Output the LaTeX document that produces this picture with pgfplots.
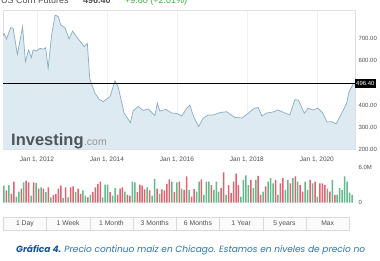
\documentclass[border=0pt]{standalone}
\usepackage{pgfplots}
\pgfplotsset{compat=1.18}
\usepackage{fontspec}
\setmainfont{Liberation Sans}
\newfontfamily\capfont{Poppins}
\definecolor{areafill}{RGB}{221,234,242}
\definecolor{linec}{RGB}{135,172,196}
\definecolor{volg}{RGB}{98,186,138}
\definecolor{volr}{RGB}{222,98,112}
\definecolor{lbl}{RGB}{80,80,80}
\definecolor{capblue}{RGB}{36,116,178}
\definecolor{capdark}{RGB}{22,84,150}
\definecolor{upgreen}{RGB}{60,175,60}
\definecolor{logoc}{RGB}{78,84,90}
\begin{document}
\begin{tikzpicture}[x=1pt,y=1pt]
\useasboundingbox (0pt,0pt) rectangle (380pt,260pt);
\clip (0pt,0pt) rectangle (380pt,260pt);
\fill[white] (0pt,0pt) rectangle (380pt,260pt);
% cropped header
\node[anchor=base west, inner sep=0, font=\fontsize{9}{9}\selectfont, text=lbl] at (1pt,256.5pt) {US Corn Futures};
\node[anchor=base west, inner sep=0, font=\bfseries\fontsize{9}{9}\selectfont, text=lbl] at (83pt,256.5pt) {496.40};
\node[anchor=base west, inner sep=0, font=\fontsize{9}{9}\selectfont, text=upgreen] at (125pt,256.5pt) {+9.80 (+2.01\%)};

\begin{axis}[at={(3pt,110.6pt)}, anchor=south west, scale only axis,
  width=352pt, height=139.4pt,
  xmin=2011.03, xmax=2021.09, ymin=200, ymax=827.5,
  axis line style={draw=gray!25},
  clip mode=individual,
  xtick={2012,2014,2016,2018,2020},
  xticklabels={{Jan 1, 2012},{Jan 1, 2014},{Jan 1, 2016},{Jan 1, 2018},{Jan 1, 2020}},
  xticklabel style={font=\fontsize{6.5}{7}\selectfont, text=lbl, yshift=-4pt},
  ytick={200,300,400,600,700},
  yticklabels={200.00,300.00,400.00,600.00,700.00},
  yticklabel pos=right,
  yticklabel style={font=\fontsize{6}{7}\selectfont, text=lbl},
  major tick length=0pt,
  xmajorgrids, major grid style={gray!12, line width=0.3pt},
]
\addplot[fill=areafill, draw=none] coordinates {
(2011.03,712) (2011.06,722.7) (2011.13,697) (2011.25,747.9) (2011.32,745.2) (2011.44,628.2)
(2011.59,752.4) (2011.67,594.9) (2011.76,647.5) (2011.84,612.9) (2011.89,647.5) (2011.99,643)
(2012.09,655.2) (2012.18,650.7) (2012.25,657.9) (2012.32,565.2) (2012.42,715) (2012.52,805)
(2012.61,797.4) (2012.68,760) (2012.80,747.9) (2012.92,697) (2013.02,733) (2013.13,707.4)
(2013.28,677.7) (2013.35,662.4) (2013.44,677.7) (2013.51,517) (2013.66,452.7) (2013.77,427)
(2013.89,414.9) (2014.09,437.4) (2014.23,509.4) (2014.32,482.4) (2014.49,364) (2014.67,320.4)
(2014.75,373) (2014.89,393.3) (2015.04,375.3) (2015.18,382) (2015.37,352.8) (2015.44,409)
(2015.51,373) (2015.69,379.8) (2015.85,364) (2015.99,361.8) (2016.14,350.5) (2016.28,385)
(2016.37,400) (2016.47,350.5) (2016.62,302.4) (2016.75,340) (2016.89,355) (2017.04,355)
(2017.23,365.4) (2017.42,369.9) (2017.51,359.5) (2017.66,343.8) (2017.86,341.5) (2018.04,362.7)
(2018.20,384.3) (2018.32,388.8) (2018.43,350.5) (2018.57,364) (2018.75,368.5) (2018.89,377.5)
(2019.06,365.4) (2019.23,355) (2019.37,423.9) (2019.47,422.5) (2019.56,392.4) (2019.64,362.7)
(2019.75,385.2) (2019.89,377.5) (2020.03,385.2) (2020.16,366.3) (2020.29,323.5) (2020.42,324.9)
(2020.55,314.5) (2020.71,362.7) (2020.85,407.7) (2020.92,459.9) (2021.04,494.5) (2021.09,496.4)
} \closedcycle;
\addplot[linec, line width=0.7pt] coordinates {
(2011.03,712) (2011.06,722.7) (2011.13,697) (2011.25,747.9) (2011.32,745.2) (2011.44,628.2)
(2011.59,752.4) (2011.67,594.9) (2011.76,647.5) (2011.84,612.9) (2011.89,647.5) (2011.99,643)
(2012.09,655.2) (2012.18,650.7) (2012.25,657.9) (2012.32,565.2) (2012.42,715) (2012.52,805)
(2012.61,797.4) (2012.68,760) (2012.80,747.9) (2012.92,697) (2013.02,733) (2013.13,707.4)
(2013.28,677.7) (2013.35,662.4) (2013.44,677.7) (2013.51,517) (2013.66,452.7) (2013.77,427)
(2013.89,414.9) (2014.09,437.4) (2014.23,509.4) (2014.32,482.4) (2014.49,364) (2014.67,320.4)
(2014.75,373) (2014.89,393.3) (2015.04,375.3) (2015.18,382) (2015.37,352.8) (2015.44,409)
(2015.51,373) (2015.69,379.8) (2015.85,364) (2015.99,361.8) (2016.14,350.5) (2016.28,385)
(2016.37,400) (2016.47,350.5) (2016.62,302.4) (2016.75,340) (2016.89,355) (2017.04,355)
(2017.23,365.4) (2017.42,369.9) (2017.51,359.5) (2017.66,343.8) (2017.86,341.5) (2018.04,362.7)
(2018.20,384.3) (2018.32,388.8) (2018.43,350.5) (2018.57,364) (2018.75,368.5) (2018.89,377.5)
(2019.06,365.4) (2019.23,355) (2019.37,423.9) (2019.47,422.5) (2019.56,392.4) (2019.64,362.7)
(2019.75,385.2) (2019.89,377.5) (2020.03,385.2) (2020.16,366.3) (2020.29,323.5) (2020.42,324.9)
(2020.55,314.5) (2020.71,362.7) (2020.85,407.7) (2020.92,459.9) (2021.04,494.5) (2021.09,496.4)
};
\addplot[black, line width=0.9pt] coordinates {(2011.03,496.4) (2021.09,496.4)};
\node[anchor=west, fill=black, text=white, inner sep=1pt, minimum height=8.7pt,
  font=\fontsize{6}{7}\selectfont] at (axis cs:2021.09,496.4) {496.40};
\end{axis}

% logo
\node[anchor=base west, inner sep=0, text=logoc, font=\bfseries\fontsize{16.5}{17}\selectfont] (inv) at (11pt,114.5pt) {Investing};
\node[anchor=base west, inner sep=0, text=gray!85, font=\fontsize{10.5}{11}\selectfont] at (inv.base east) {.com};

\begin{axis}[at={(3pt,57.5pt)}, anchor=south west, scale only axis,
  width=352pt, height=37.6pt,
  xmin=-0.405, xmax=142.2, ymin=0, ymax=6.5,
  axis line style={draw=none},
  xtick=\empty,
  ytick={0,6}, yticklabels={0,6.0M},
  yticklabel pos=right,
  yticklabel style={font=\fontsize{6}{7}\selectfont, text=lbl},
  major tick length=0pt,
]
\addplot[ybar, bar width=1.5pt, bar shift=0pt, fill=volg, draw=none] coordinates {
(0,2.9) (2,3.0) (5,1.0) (6,1.9) (8,3.5) (11,1.2) (13,3.4) (15,2.6) (17,1.8) (19,0.9)
(24,0.8) (26,0.9) (29,1.8) (32,2.1) (33,1.2) (35,1.3) (40,0.9) (41,3.1) (42,3.1) (44,1.2)
(45,2.5) (49,1.9) (52,3.6) (53,3.5) (58,2.6) (60,1.2) (61,4.1) (63,1.5) (68,3.6) (70,3.5)
(72,2.4) (75,2.2) (78,1.9) (79,3.6) (81,1.3) (82,3.6) (83,3.6) (85,2.2) (86,3.6) (87,1.9)
(90,1.3) (96,1.0) (97,3.9) (98,4.7) (99,3.0) (101,2.5) (102,3.9) (105,1.9) (107,3.6) (108,4.2)
(109,3.3) (111,1.3) (114,2.2) (115,3.9) (117,4.2) (119,3.6) (122,3.6) (123,2.2) (125,3.3) (127,1.0)
(131,2.4) (133,3.9) (135,1.3) (136,2.5) (137,2.2) (138,4.5) (139,3.6) (140,1.7) (141,1.3)
};
\addplot[ybar, bar width=1.5pt, bar shift=0pt, fill=volr, draw=none] coordinates {
(1,2.1) (3,1.5) (4,3.6) (7,2.4) (9,3.8) (10,3.5) (12,3.5) (14,2.4) (16,2.4) (18,2.6)
(20,1.3) (21,1.5) (22,2.4) (23,2.9) (25,2.6) (27,2.6) (28,2.8) (30,2.4) (31,1.5) (34,0.9)
(36,1.8) (37,2.6) (38,3.2) (39,3.6) (43,1.8) (46,1.3) (47,2.4) (48,2.6) (50,1.3) (51,1.2)
(54,1.8) (55,3.1) (56,2.9) (57,2.25) (59,2.1) (62,2.4) (64,2.25) (65,2.1) (66,3.2) (67,4.0)
(69,1.8) (71,3.6) (73,2.2) (74,4.5) (76,1.0) (77,2.3) (80,4.0) (84,3.0) (88,2.5) (89,5.2)
(91,3.0) (92,1.6) (93,3.6) (94,5.0) (95,3.0) (100,3.9) (103,4.6) (104,1.3) (106,2.8) (110,3.9)
(112,3.3) (113,4.2) (116,3.3) (118,4.5) (120,3.0) (121,1.9) (124,3.9) (126,3.6) (128,3.3) (129,3.3)
(130,3.0) (132,1.9) (134,1.3)
};
\end{axis}

% range buttons
\foreach \lab [count=\i from 0] in {1 Day,1 Week,1 Month,3 Months,6 Months,1 Year,5 years,Max} {
  \draw[gray!30, fill=gray!3, line width=0.4pt] ({(3.3+\i*43.25)*1pt},30pt) rectangle ({(3.3+(\i+1)*43.25)*1pt},43.3pt);
  \node[font=\fontsize{6.8}{7}\selectfont, text=lbl, inner sep=0] at ({(3.3+(\i+0.5)*43.25)*1pt},36.6pt) {\lab};
}

% caption
\node[anchor=base west, inner sep=0, font=\capfont\fontsize{9}{9}\selectfont] at (16pt,7.3pt)
 {{\bfseries\itshape\color{capdark}Gráfica 4.} {\itshape\color{capblue}Precio continuo maíz en Chicago. Estamos en niveles de precio no}};
\end{tikzpicture}
\end{document}
